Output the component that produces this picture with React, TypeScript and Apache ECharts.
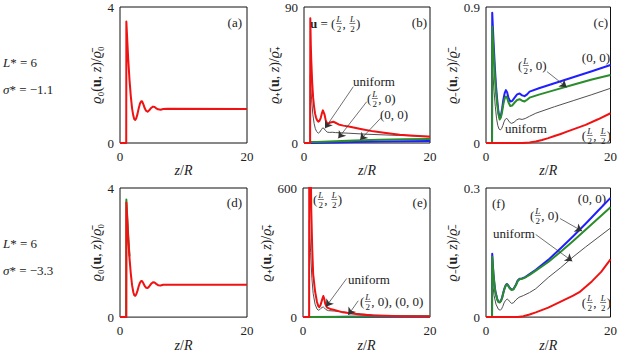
import React, { useEffect, useRef } from "react";
import * as echarts from "echarts";

type Pt = [number, number];

// ---------- data (z/R, normalised density) ----------
// (a) L*=6, sigma*=-1.1, rho_0
const rho0RedA: Pt[] = [[0, 0], [0.98, 0], [1.0, 3.57], [1.15, 3.0], [1.3, 2.45], [1.5, 1.85], [1.7, 1.38], [1.9, 1.02], [2.1, 0.8], [2.25, 0.7], [2.4, 0.68], [2.55, 0.72], [2.75, 0.85], [2.95, 1.02], [3.15, 1.16], [3.35, 1.23], [3.5, 1.22], [3.7, 1.13], [3.9, 1.02], [4.1, 0.95], [4.35, 0.92], [4.6, 0.96], [4.9, 1.03], [5.2, 1.07], [5.45, 1.06], [5.7, 1.02], [6.0, 0.99], [6.4, 0.98], [6.8, 1.0], [7.5, 1.01], [20, 1.0]];
// (b) rho_+
const rhoPlusUniformB: Pt[] = [[0, 0], [0.97, 0], [1.0, 45], [1.1, 36], [1.2, 29], [1.4, 19], [1.6, 13], [1.8, 9.5], [2.0, 7.6], [2.27, 6.5], [2.5, 7.2], [2.75, 8.8], [2.97, 10], [3.15, 9.7], [3.4, 8.3], [3.7, 7.2], [4.0, 7.0], [4.5, 7.1], [5, 6.9], [7, 6.5], [10, 5.8], [15, 5], [20, 4.4]];
const rhoPlusZeroB: Pt[] = [[0, 0], [0.97, 0], [1.0, 0.3], [3, 0.2], [5, 0.4], [8, 0.7], [12, 1.0], [16, 1.2], [20, 1.4]];
const rhoPlusHalfB: Pt[] = [[0, 0], [0.97, 0], [1.0, 0.6], [2, 0.7], [4, 1.0], [6, 1.4], [8, 1.7], [12, 2.1], [16, 2.4], [20, 2.6]];
const rhoPlusCornerB: Pt[] = [[0, 0], [0.97, 0], [1.0, 82.5], [1.08, 65], [1.15, 55], [1.3, 40], [1.45, 30], [1.6, 24], [1.75, 19.6], [1.9, 17], [2.05, 15.3], [2.27, 14.1], [2.45, 14.6], [2.65, 16.5], [2.85, 19.8], [3.0, 21.6], [3.1, 21.6], [3.25, 19], [3.45, 15], [3.7, 12.8], [3.9, 12.9], [4.2, 13.6], [4.65, 14.1], [5.0, 13.4], [5.5, 12.3], [6.25, 11.5], [7.3, 10.8], [9, 9.3], [11, 7.7], [13, 6.6], [15.2, 5.5], [17.5, 4.8], [20, 4.2]];
// (c) rho_-
const rhoMinusUniformC: Pt[] = [[0, 0], [0.97, 0], [1.0, 0.55], [1.15, 0.43], [1.3, 0.34], [1.5, 0.24], [1.7, 0.16], [1.9, 0.115], [2.1, 0.092], [2.3, 0.086], [2.5, 0.095], [2.7, 0.115], [2.9, 0.14], [3.1, 0.157], [3.35, 0.163], [3.55, 0.152], [3.8, 0.137], [4.1, 0.13], [4.5, 0.137], [4.9, 0.152], [5.3, 0.16], [5.8, 0.156], [6.3, 0.162], [7, 0.177], [8, 0.197], [11, 0.24], [14, 0.28], [17, 0.32], [20, 0.362]];
const rhoMinusZeroC: Pt[] = [[0, 0], [0.97, 0], [1.0, 0.862], [1.1, 0.77], [1.2, 0.68], [1.42, 0.505], [1.6, 0.38], [1.8, 0.285], [2.0, 0.205], [2.2, 0.165], [2.4, 0.18], [2.6, 0.23], [2.8, 0.29], [3.0, 0.33], [3.2, 0.35], [3.4, 0.335], [3.6, 0.3], [3.9, 0.275], [4.2, 0.278], [4.6, 0.3], [5.0, 0.322], [5.4, 0.328], [5.8, 0.315], [6.2, 0.31], [6.6, 0.322], [7.0, 0.34], [8.5, 0.362], [11, 0.395], [14, 0.435], [17, 0.475], [20, 0.516]];
const rhoMinusHalfC: Pt[] = [[0, 0], [0.97, 0], [1.0, 0.77], [1.1, 0.69], [1.2, 0.61], [1.42, 0.45], [1.6, 0.34], [1.8, 0.255], [2.0, 0.19], [2.2, 0.155], [2.4, 0.17], [2.6, 0.21], [2.8, 0.26], [3.0, 0.295], [3.2, 0.308], [3.4, 0.298], [3.6, 0.27], [3.9, 0.245], [4.2, 0.248], [4.6, 0.268], [5.0, 0.285], [5.4, 0.29], [5.8, 0.28], [6.2, 0.275], [6.6, 0.286], [7.0, 0.3], [8.5, 0.32], [11, 0.35], [14, 0.385], [17, 0.42], [20, 0.45]];
const rhoMinusCornerC: Pt[] = [[0, 0], [5.9, 0], [7, 0.003], [8, 0.01], [9, 0.02], [10, 0.032], [11, 0.046], [12, 0.06], [13, 0.075], [14, 0.09], [16, 0.12], [18, 0.157], [20, 0.197]];
// (d) L*=6, sigma*=-3.3, rho_0
const rho0GreenD: Pt[] = [[0, 0], [0.98, 0], [1.0, 3.64], [1.15, 3.05], [1.3, 2.5], [1.5, 1.88]];
const rho0RedD: Pt[] = [[0, 0], [0.98, 0], [1.0, 3.55], [1.15, 2.98], [1.3, 2.42], [1.5, 1.82], [1.7, 1.35], [1.9, 0.99], [2.1, 0.77], [2.25, 0.68], [2.4, 0.66], [2.55, 0.7], [2.75, 0.81], [2.95, 0.96], [3.15, 1.07], [3.35, 1.12], [3.5, 1.11], [3.7, 1.04], [3.9, 0.96], [4.1, 0.91], [4.35, 0.9], [4.6, 0.95], [4.9, 1.03], [5.2, 1.08], [5.45, 1.07], [5.7, 1.03], [6.0, 0.99], [6.4, 0.98], [6.8, 1.0], [7.5, 1.0], [20, 1.0]];
// (e) rho_+
const rhoPlusUniformE: Pt[] = [[0, 0], [0.97, 0], [1.0, 450], [1.1, 370], [1.2, 300], [1.4, 180], [1.6, 110], [1.9, 60], [2.2, 38], [2.4, 32], [2.6, 34], [2.8, 40], [3.0, 45], [3.2, 47], [3.4, 42], [3.6, 35], [4.0, 30], [5, 28], [6.3, 24], [8, 18], [11, 10], [15, 5], [20, 3]];
const rhoPlusZeroE: Pt[] = [[0, 0], [1, 0], [10, 1.5], [20, 3]];
const rhoPlusHalfE: Pt[] = [[0, 0], [1, 0], [5, 1], [10, 2.5], [20, 4]];
const rhoPlusCornerE: Pt[] = [[0, 0], [0.97, 0], [1.0, 2000], [1.26, 600], [1.3, 500], [1.45, 320], [1.6, 200], [1.9, 120], [2.2, 70], [2.4, 52], [2.55, 46], [2.75, 55], [3.0, 80], [3.2, 98], [3.35, 85], [3.5, 62], [3.8, 44], [4.3, 38], [4.8, 34], [6.3, 22], [7.4, 18], [9, 12], [11, 8], [13, 6], [15.3, 4.5], [20, 3]];
// (f) rho_-
const rhoMinusUniformF: Pt[] = [[0, 0], [0.97, 0], [1.0, 0.09], [1.15, 0.068], [1.3, 0.05], [1.6, 0.03], [2.0, 0.018], [2.3, 0.016], [2.5, 0.019], [2.7, 0.025], [2.9, 0.033], [3.1, 0.038], [3.4, 0.042], [3.6, 0.04], [3.8, 0.036], [4.1, 0.032], [4.4, 0.033], [4.8, 0.04], [5.3, 0.046], [6, 0.05], [7, 0.057], [8, 0.066], [10, 0.092], [12, 0.115], [14, 0.14], [16, 0.163], [18, 0.185], [20, 0.207]];
const rhoMinusZeroF: Pt[] = [[0, 0], [0.97, 0], [1.0, 0.147], [1.1, 0.122], [1.2, 0.1], [1.35, 0.078], [1.5, 0.06], [1.8, 0.042], [2.0, 0.036], [2.2, 0.035], [2.4, 0.038], [2.6, 0.046], [2.8, 0.058], [3.0, 0.068], [3.2, 0.075], [3.36, 0.077], [3.55, 0.074], [3.8, 0.068], [4.1, 0.064], [4.4, 0.065], [4.8, 0.075], [5.1, 0.085], [5.4, 0.089], [5.8, 0.09], [6.3, 0.093], [7, 0.1], [8, 0.11], [10, 0.133], [12, 0.16], [14, 0.188], [16, 0.217], [18, 0.247], [20, 0.277]];
const rhoMinusHalfF: Pt[] = [[0, 0], [0.97, 0], [1.0, 0.14], [1.1, 0.118], [1.2, 0.098], [1.35, 0.076], [1.5, 0.059], [1.8, 0.041], [2.0, 0.035], [2.2, 0.034], [2.4, 0.037], [2.6, 0.045], [2.8, 0.057], [3.0, 0.067], [3.2, 0.074], [3.36, 0.076], [3.55, 0.073], [3.8, 0.067], [4.1, 0.063], [4.4, 0.064], [4.8, 0.074], [5.1, 0.084], [5.4, 0.088], [5.8, 0.089], [6.3, 0.092], [7, 0.098], [8, 0.108], [10, 0.128], [12, 0.152], [14, 0.177], [16, 0.203], [18, 0.229], [20, 0.255]];
const rhoMinusCornerF: Pt[] = [[0, 0], [5.1, 0], [6, 0.002], [7, 0.006], [8, 0.011], [10, 0.022], [12, 0.036], [14, 0.05], [15, 0.058], [17, 0.083], [18.5, 0.105], [20, 0.134]];

// axis ranges / tick labels
const zTicks = [0, 20];
const yMaxes = [4, 90, 0.9, 4, 600, 0.3];
const panelTags = ["(a)", "(b)", "(c)", "(d)", "(e)", "(f)"];

// annotation arrows [from, to] in data coords
const arrowsB: [Pt, Pt][] = [[[7.83, 37.3], [3.33, 9.7]], [[9.95, 27.3], [5.44, 3.1]], [[12.3, 17], [8.9, 2.0]]];
const arrowsC: [Pt, Pt][] = [[[9.81, 0.472], [12.96, 0.369]]];
const arrowsE: [Pt, Pt][] = [[[6.88, 179.6], [3.62, 48.5]], [[8.7, 76], [7.13, 10]]];
const arrowsF: [Pt, Pt][] = [[[11.9, 0.229], [15.43, 0.2]], [[7.98, 0.192], [13.86, 0.13]]];

const FONT = "Liberation Serif";
const TXT = "#222";
const RED = "#f01212";
const BLUE = "#1f1fff";
const GREEN = "#2a8c2a";
const GRAY = "#505050";

type Seg = string | { frac: true } | { t: string; st: "bold" | "italic" };

let measureCtx: CanvasRenderingContext2D | null = null;
function measure(t: string, font: string) {
  if (!measureCtx) measureCtx = document.createElement("canvas").getContext("2d");
  measureCtx!.font = font;
  return measureCtx!.measureText(t).width;
}

function mathLabel(x: number, y: number, segs: Seg[], align: "left" | "right" = "left", fontSize = 13) {
  const small = 9;
  const fracW = Math.max(measure("L", `italic ${small}px ${FONT}`), measure("2", `${small}px ${FONT}`)) + 2;
  const fontOf = (st?: string) =>
    `${st === "bold" ? "bold " : ""}${st === "italic" ? "italic " : ""}${fontSize}px ${FONT}`;
  const widths = segs.map((s) =>
    typeof s === "string" ? measure(s, fontOf()) : "frac" in s ? fracW : measure(s.t, fontOf(s.st))
  );
  const total = widths.reduce((a, b) => a + b, 0);
  let cx = align === "right" ? x - total : x;
  const children: any[] = [];
  segs.forEach((s, i) => {
    const w = widths[i];
    if (typeof s === "string" || !("frac" in s)) {
      const t = typeof s === "string" ? s : s.t;
      const st = typeof s === "string" ? undefined : s.st;
      children.push({
        type: "text",
        x: cx,
        y,
        style: {
          text: t,
          fontSize,
          fontFamily: FONT,
          fontWeight: st === "bold" ? "bold" : "normal",
          fontStyle: st === "italic" ? "italic" : "normal",
          fill: TXT,
          align: "left",
          verticalAlign: "middle",
        },
      });
    } else {
      children.push({
        type: "text",
        x: cx + w / 2,
        y: y - 4.5,
        style: { text: "L", fontSize: small, fontFamily: FONT, fontStyle: "italic", fill: TXT, align: "center", verticalAlign: "middle" },
      });
      children.push({
        type: "line",
        shape: { x1: cx + 0.5, y1: y + 0.5, x2: cx + w - 0.5, y2: y + 0.5 },
        style: { stroke: TXT, lineWidth: 0.6 },
      });
      children.push({
        type: "text",
        x: cx + w / 2,
        y: y + 5.5,
        style: { text: "2", fontSize: small, fontFamily: FONT, fill: TXT, align: "center", verticalAlign: "middle" },
      });
    }
    cx += w;
  });
  return { type: "group", children };
}

function plainText(x: number, y: number, text: string, align = "left", fontSize = 13) {
  return {
    type: "text",
    x,
    y,
    style: { text, fontSize, fontFamily: FONT, fill: TXT, align, verticalAlign: "middle" },
  };
}

function richText(x: number, y: number, text: string) {
  return {
    type: "text",
    x,
    y,
    style: {
      text,
      fontSize: 13,
      fontFamily: FONT,
      fill: TXT,
      align: "left",
      verticalAlign: "middle",
      rich: {
        i: { fontSize: 13, fontFamily: FONT, fontStyle: "italic", fill: TXT, color: TXT },
        n: { fontSize: 13, fontFamily: FONT, fill: TXT, color: TXT },
      },
    },
  };
}

const richAxis = {
  i: { fontSize: 14, fontFamily: FONT, fontStyle: "italic", color: TXT },
  b: { fontSize: 14, fontFamily: FONT, fontWeight: "bold", color: TXT },
  n: { fontSize: 14, fontFamily: FONT, color: TXT },
};

function buildOption() {
  const grids = [
    { left: 120, top: 7, width: 127, height: 136 },
    { left: 304, top: 7, width: 126, height: 136 },
    { left: 486, top: 7, width: 127, height: 136 },
    { left: 120, top: 188, width: 127, height: 136 },
    { left: 303, top: 188, width: 127, height: 136 },
    { left: 486, top: 188, width: 127, height: 136 },
  ].map((g) => ({ ...g, show: true, borderColor: "#111", borderWidth: 1, backgroundColor: "transparent" }));

  const yNames = [
    "{i|ϱ}{n|₀(}{b|u}{n|, }{i|z}{n|)/}{i|ϱ̄}{n|₀}",
    "{i|ϱ}{n|₊(}{b|u}{n|, }{i|z}{n|)/}{i|ϱ̄}{n|₊}",
    "{i|ϱ}{n|₋(}{b|u}{n|, }{i|z}{n|)/}{i|ϱ̄}{n|₋}",
  ];

  const xAxis = grids.map((_, i) => ({
    type: "value",
    gridIndex: i,
    min: zTicks[0],
    max: zTicks[1],
    interval: zTicks[1] - zTicks[0],
    axisLine: { show: false },
    axisTick: { show: false },
    splitLine: { show: false },
    axisLabel: { fontFamily: FONT, fontSize: 13, color: TXT, margin: 7 },
    name: "{i|z}{n|/}{i|R}",
    nameLocation: "middle",
    nameGap: 20,
    nameTextStyle: { fontFamily: FONT, fontSize: 14, color: TXT, rich: richAxis },
  }));

  const yAxis = grids.map((_, i) => ({
    type: "value",
    gridIndex: i,
    min: 0,
    max: yMaxes[i],
    interval: yMaxes[i],
    axisLine: { show: false },
    axisTick: { show: false },
    splitLine: { show: false },
    axisLabel: {
      fontFamily: FONT,
      fontSize: 13,
      color: TXT,
      margin: 6,
      formatter: (v: number) => String(+v.toFixed(3)),
    },
    name: yNames[i % 3],
    nameLocation: "middle",
    nameGap: 8,
    nameTextStyle: { fontFamily: FONT, fontSize: 14, color: TXT, rich: richAxis },
  }));

  const line = (gi: number, name: string, data: Pt[], color: string, width: number, extra: any = {}) => ({
    type: "line",
    name,
    xAxisIndex: gi,
    yAxisIndex: gi,
    data,
    showSymbol: false,
    symbol: "none",
    smooth: false,
    lineStyle: { color, width, join: "round" },
    itemStyle: { color },
    silent: true,
    clip: true,
    ...extra,
  });

  const arrowML = (arrows: [Pt, Pt][]) => ({
    markLine: {
      silent: true,
      symbol: ["none", "arrow"],
      symbolSize: 7,
      lineStyle: { color: "#333", width: 0.7, type: "solid" },
      label: { show: false },
      emphasis: { disabled: true },
      data: arrows.map(([a, b]) => [{ coord: a }, { coord: b }]),
    },
  });

  const series: any[] = [
    line(0, "a-red", rho0RedA, RED, 2),
    line(1, "b-uniform", rhoPlusUniformB, GRAY, 1),
    line(1, "b-zero", rhoPlusZeroB, BLUE, 2),
    line(1, "b-half", rhoPlusHalfB, GREEN, 2),
    line(1, "b-corner", rhoPlusCornerB, RED, 2, arrowML(arrowsB)),
    line(2, "c-uniform", rhoMinusUniformC, GRAY, 1),
    line(2, "c-zero", rhoMinusZeroC, BLUE, 2),
    line(2, "c-half", rhoMinusHalfC, GREEN, 2),
    line(2, "c-corner", rhoMinusCornerC, RED, 2, arrowML(arrowsC)),
    line(3, "d-green", rho0GreenD, GREEN, 2),
    line(3, "d-red", rho0RedD, RED, 2),
    line(4, "e-uniform", rhoPlusUniformE, GRAY, 1),
    line(4, "e-zero", rhoPlusZeroE, BLUE, 2),
    line(4, "e-half", rhoPlusHalfE, GREEN, 2),
    line(4, "e-corner", rhoPlusCornerE, RED, 2, arrowML(arrowsE)),
    line(5, "f-uniform", rhoMinusUniformF, GRAY, 1),
    line(5, "f-zero", rhoMinusZeroF, BLUE, 2),
    line(5, "f-half", rhoMinusHalfF, GREEN, 2),
    line(5, "f-corner", rhoMinusCornerF, RED, 2, arrowML(arrowsF)),
  ];

  const F = { frac: true } as const;
  const graphic: any[] = [
    // left parameter labels
    richText(3, 62, "{i|L}{n|* = 6}"),
    richText(3, 89, "{i|σ}{n|* = −1.1}"),
    richText(3, 243, "{i|L}{n|* = 6}"),
    richText(3, 270, "{i|σ}{n|* = −3.3}"),
    // panel tags
    plainText(242, 22, panelTags[0], "right"),
    plainText(427, 22, panelTags[1], "right"),
    plainText(608, 22, panelTags[2], "right"),
    plainText(242, 202, panelTags[3], "right"),
    plainText(427, 202, panelTags[4], "right"),
    plainText(492, 203, panelTags[5], "left"),
    // (b)
    mathLabel(310, 23, [{ t: "u", st: "bold" }, " = (", F, ", ", F, ")"]),
    plainText(353, 81, "uniform"),
    mathLabel(367, 98, ["(", F, ", 0)"]),
    plainText(380, 114, "(0, 0)"),
    // (c)
    plainText(610, 57, "(0, 0)", "right"),
    mathLabel(518, 65, ["(", F, ", 0)"]),
    plainText(505, 128, "uniform"),
    mathLabel(611, 135, ["(", F, ", ", F, ")"], "right"),
    // (e)
    mathLabel(313, 199, ["(", F, ", ", F, ")"]),
    plainText(348, 279, "uniform"),
    mathLabel(360, 301, ["(", F, ", 0), (0, 0)"]),
    // (f)
    plainText(606, 198, "(0, 0)", "right"),
    mathLabel(530, 215, ["(", F, ", 0)"]),
    plainText(493, 233, "uniform"),
    mathLabel(611, 302, ["(", F, ", ", F, ")"], "right"),
  ];

  return {
    animation: false,
    backgroundColor: "#ffffff",
    textStyle: { fontFamily: FONT },
    grid: grids,
    xAxis,
    yAxis,
    series,
    graphic,
  };
}

export default function App() {
  const ref = useRef<HTMLDivElement>(null);
  useEffect(() => {
    const chart = echarts.init(ref.current!, null, { renderer: "svg" });
    chart.setOption(buildOption() as any);
    return () => chart.dispose();
  }, []);
  return (
    <div
      ref={ref}
      style={{ position: "absolute", left: 0, top: 0, width: 620, height: 353 }}
    />
  );
}
